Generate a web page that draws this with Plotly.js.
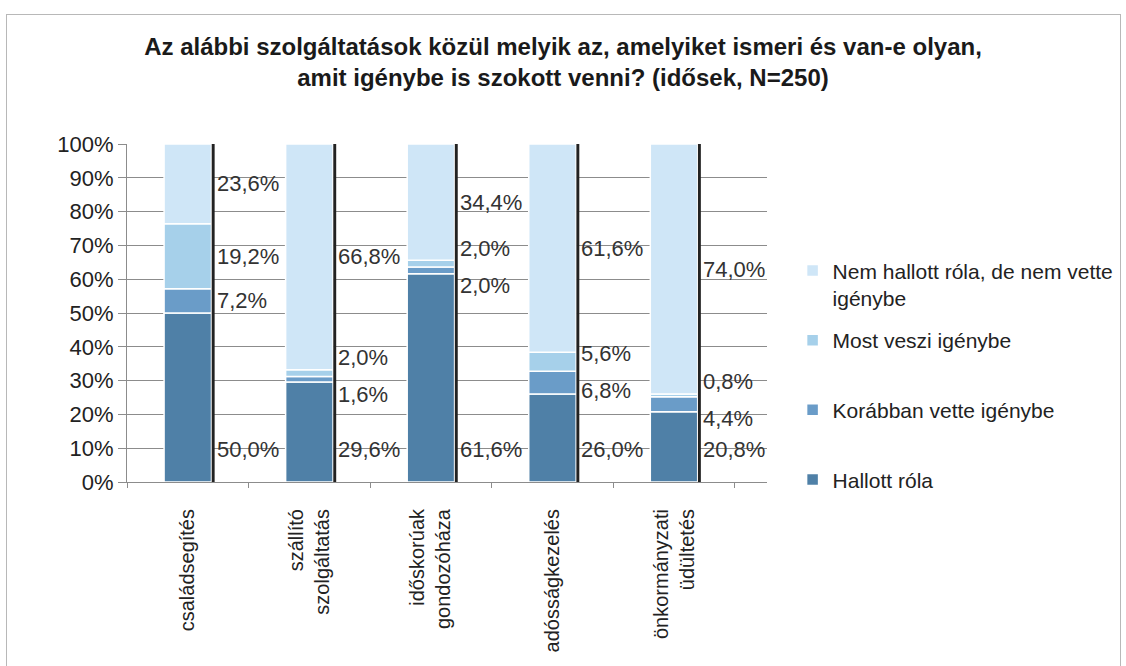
<!DOCTYPE html>
<html>
<head>
<meta charset="utf-8">
<script src="https://cdn.plot.ly/plotly-3.0.1.min.js"></script>
<style>
  body { margin: 0; background: #fff; }
  #chart { width: 1126px; height: 666px; }
  #frame { position: absolute; left: 6px; top: 14px; width: 1113px; height: 660px;
           border: 1px solid #b8b8b8; pointer-events: none; }
</style>
</head>
<body>
<div id="chart"></div>
<div id="frame"></div>
<script>
// data (percent of respondents)
const categories = ['családsegítés', 'szállító<br>szolgáltatás', 'időskorúak<br>gondozóháza', 'adósságkezelés', 'önkormányzati<br>üdültetés'];
const hallott = [50.0, 29.6, 61.6, 26.0, 20.8];
const korabban = [7.2, 1.6, 2.0, 6.8, 4.4];
const most = [19.2, 2.0, 2.0, 5.6, 0.8];
const nemHallott = [23.6, 66.8, 34.4, 61.6, 74.0];
const seriesNames = ['Hallott róla', 'Korábban vette igénybe', 'Most veszi igénybe', 'Nem hallott róla, de nem vette<br>igénybe'];
const colors = ['#4f80a7', '#6a9cc8', '#a6d0ea', '#cfe6f7'];

const series = [hallott, korabban, most, nemHallott];

// percent label with decimal comma
function fmt(v) {
    return v.toFixed(1).replace('.', ',') + '%';
}

// stacked bars, bases computed from the previous series
const traces = [];
const bases = categories.map(() => 0);
series.forEach((vals, s) => {
    // pad single-line legend entries so every entry takes the same room
    const name = seriesNames[s].includes('<br>') ? seriesNames[s] : seriesNames[s] + '<br> ';
    traces.push({
        type: 'bar',
        x: categories,
        y: vals,
        base: bases.slice(),
        name: name,
        legendgroup: 'g' + s,
        legendrank: 10 - s,   // top series first in the legend
        width: 0.39,
        offset: -0.195,
        marker: { color: colors[s], line: { color: '#ffffff', width: 1.5 } },
        hoverinfo: 'none'
    });
    vals.forEach((v, i) => { bases[i] += v; });
});

// the thin dark bar standing at the right side of each column
traces.push({
    type: 'bar',
    x: categories,
    y: bases.slice(),
    base: categories.map(() => 0),
    width: 0.024,
    offset: 0.197,
    marker: { color: '#222222' },
    showlegend: false,
    hoverinfo: 'none'
});

// label heights: bottom label near the base, the rest at segment middles,
// pushed apart where they would overlap
function labelHeights(i) {
    let cum = 0;
    const ys = series.map(vals => {
        const m = cum + vals[i] / 2;
        cum += vals[i];
        return m;
    });
    ys[0] = 9.5;
    const gap = 11;
    for (let it = 0; it < 10; it++) {
        for (let k = 1; k < 3; k++) {
            if (ys[k + 1] - ys[k] < gap) {
                const mid = (ys[k] + ys[k + 1]) / 2;
                ys[k] = mid - gap / 2;
                ys[k + 1] = mid + gap / 2;
            }
        }
    }
    return ys;
}

const annotations = [];
categories.forEach((c, i) => {
    const ys = labelHeights(i);
    series.forEach((vals, s) => {
        annotations.push({
            x: c, y: ys[s], xref: 'x', yref: 'y',
            text: fmt(vals[i]),
            showarrow: false,
            xanchor: 'left', yanchor: 'middle',
            xshift: 27,
            font: { family: 'Liberation Sans, Arial, sans-serif', size: 22, color: '#333333' }
        });
    });
});

const layout = {
    width: 1126,
    height: 666,
    margin: { l: 127, r: 359, t: 144, b: 184, autoexpand: false },
    paper_bgcolor: '#ffffff',
    plot_bgcolor: '#ffffff',
    barmode: 'overlay',
    font: { family: 'Liberation Sans, Arial, sans-serif', color: '#222222' },
    title: {
        text: 'Az alábbi szolgáltatások közül melyik az, amelyiket ismeri és van-e olyan,<br>amit igénybe is szokott venni? (idősek, N=250)',
        font: { size: 24, weight: 'bold', color: '#1a1a1a' },
        x: 0.5, xref: 'container', xanchor: 'center',
        y: 0.918, yref: 'container', yanchor: 'middle'
    },
    xaxis: {
        type: 'category',
        tickangle: -90,
        tickson: 'boundaries',
        ticks: 'outside',
        ticklen: 5,
        tickcolor: '#8c8c8c',
        showline: true,
        linecolor: '#8c8c8c',
        showgrid: false,
        ticklabelstandoff: 18,
        tickfont: { size: 20, color: '#222222' }
    },
    yaxis: {
        range: [0, 100],
        dtick: 10,
        ticksuffix: '%',
        showgrid: true,
        gridcolor: '#8c8c8c',
        showline: true,
        linecolor: '#8c8c8c',
        ticks: 'outside',
        ticklen: 8,
        tickcolor: '#8c8c8c',
        zeroline: false,
        tickfont: { size: 22, color: '#222222' }
    },
    legend: {
        x: 1.04, y: 0.685, xanchor: 'left', yanchor: 'top',
        traceorder: 'grouped',
        tracegroupgap: 12,
        valign: 'top',
        bgcolor: 'rgba(0,0,0,0)',
        font: { size: 21, color: '#222222' }
    },
    annotations: annotations,
    showlegend: true
};

Plotly.newPlot('chart', traces, layout, { staticPlot: true });
</script>
</body>
</html>
